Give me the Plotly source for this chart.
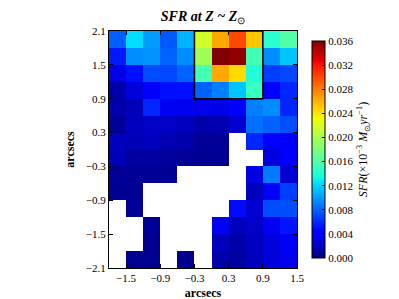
import numpy as np
import plotly.graph_objects as go

# cell centres (arcsec)
x_centers = [-1.65, -1.35, -1.05, -0.75, -0.45, -0.15, 0.15, 0.45, 0.75, 1.05, 1.35]
y_centers = [1.95, 1.65, 1.35, 1.05, 0.75, 0.45, 0.15, -0.15, -0.45, -0.75, -1.05, -1.35, -1.65, -1.95]

N = None
# SFR values, rows from top (y=1.95) to bottom (y=-1.95)
sfr = [
    [0.0079, 0.0123, 0.0100, 0.0076, 0.0108, 0.0217, 0.0263, 0.0300, 0.0252, 0.0144, 0.0161],
    [0.0054, 0.0095, 0.0097, 0.0080, 0.0095, 0.0196, 0.0360, 0.0355, 0.0155, 0.0095, 0.0115],
    [0.0032, 0.0050, 0.0072, 0.0070, 0.0080, 0.0155, 0.0263, 0.0244, 0.0139, 0.0067, 0.0070],
    [0.0013, 0.0029, 0.0042, 0.0050, 0.0050, 0.0080, 0.0090, 0.0115, 0.0150, 0.0045, 0.0058],
    [0.0013, 0.0017, 0.0058, 0.0036, 0.0035, 0.0033, 0.0032, 0.0039, 0.0090, 0.0095, 0.0058],
    [0.0007, 0.0019, 0.0022, 0.0022, 0.0020, 0.0013, 0.0015, 0.0025, 0.0085, 0.0080, 0.0073],
    [0.0019, 0.0017, 0.0019, 0.0015, 0.0013, 0.0007, 0.0007, N,      0.0058, 0.0040, 0.0038],
    [0.0017, 0.0010, 0.0010, 0.0009, 0.0007, 0.0006, 0.0006, N,      N,      0.0029, 0.0038],
    [0.0007, 0.0007, 0.0007, 0.0007, N,      N,      N,      N,      0.0030, 0.0088, 0.0026],
    [0.0006, 0.0006, N,      N,      N,      N,      N,      N,      0.0019, 0.0042, 0.0067],
    [N,      0.0007, N,      N,      N,      N,      N,      0.0048, 0.0026, 0.0073, 0.0073],
    [N,      N,      0.0007, N,      N,      N,      0.0036, 0.0019, 0.0022, 0.0036, 0.0052],
    [N,      N,      0.0005, N,      N,      N,      0.0019, 0.0013, 0.0020, 0.0029, 0.0037],
    [N,      0.0005, 0.0005, N,      0.0005, N,      0.0013, 0.0010, 0.0019, 0.0029, 0.0034],
]

# solar-metallicity region box
box_x = [-0.3, 0.9]
box_y = [0.9, 2.1]

axis_ticks = [-2.1, -1.5, -0.9, -0.3, 0.3, 0.9, 1.5, 2.1]
cbar_ticks = [0.000, 0.004, 0.008, 0.012, 0.016, 0.020, 0.024, 0.028, 0.032, 0.036]

# matplotlib 'jet' colour map
seg_r = [(0, 0), (0.35, 0), (0.66, 1), (0.89, 1), (1, 0.5)]
seg_g = [(0, 0), (0.125, 0), (0.375, 1), (0.64, 1), (0.91, 0), (1, 0)]
seg_b = [(0, 0.5), (0.11, 1), (0.34, 1), (0.65, 0), (1, 0)]
stops = sorted(set([p for p, _ in seg_r + seg_g + seg_b]))
def ch(seg, s):
    return np.interp(s, [p for p, _ in seg], [v for _, v in seg])
jet = [[s, "rgb(%d,%d,%d)" % (round(255 * ch(seg_r, s)), round(255 * ch(seg_g, s)), round(255 * ch(seg_b, s)))] for s in stops]

FONT = "Liberation Serif"

fig = go.Figure()
fig.add_trace(go.Heatmap(
    x=x_centers, y=y_centers, z=sfr,
    colorscale=jet, zmin=0, zmax=0.036,
    hoverongaps=False,
    colorbar=dict(
        x=1.08, xanchor="left", xpad=0, y=0.5, yanchor="middle",
        len=1.0, lenmode="fraction", thickness=13,
        outlinecolor="black", outlinewidth=1,
        tickvals=cbar_ticks, tickformat=".3f",
        ticks="inside", ticklen=3, tickcolor="black",
        tickfont=dict(family=FONT, size=11, color="black"),
        title=dict(text="<i>SFR</i>(×10<sup>−3</sup> <i>M</i><sub>⊙</sub><i>yr</i><sup>−1</sup>)",
                   side="right", font=dict(family=FONT, size=12, color="black")),
    ),
))

fig.add_shape(type="rect", x0=box_x[0], x1=box_x[1], y0=box_y[0], y1=box_y[1],
              xref="x", yref="y", line=dict(color="black", width=1.5))

axis_common = dict(
    tickvals=axis_ticks, tickformat=".1f",
    showline=True, linecolor="black", linewidth=1, mirror="ticks",
    ticks="inside", ticklen=4, tickcolor="black",
    showgrid=False, zeroline=False, automargin=False,
    tickfont=dict(family=FONT, size=11, color="black"),
)

fig.update_layout(
    width=399, height=299,
    margin=dict(l=101, r=110, t=23, b=39, autoexpand=False),
    paper_bgcolor="white", plot_bgcolor="white",
    title=dict(text="<b><i>SFR at Z ~ Z</i></b><sub>⊙</sub>", x=0.5, xref="paper", xanchor="center",
               y=0.988, yanchor="top", font=dict(family=FONT, size=14, color="black")),
    xaxis=dict(range=[-1.8, 1.5], title=dict(text="<b>arcsecs</b>", standoff=5,
               font=dict(family=FONT, size=12, color="black")), **axis_common),
    yaxis=dict(range=[-2.1, 2.1], title=dict(text="<b>arcsecs</b>", standoff=8,
               font=dict(family=FONT, size=12, color="black")), **axis_common),
)

fig.write_html("out.html")
